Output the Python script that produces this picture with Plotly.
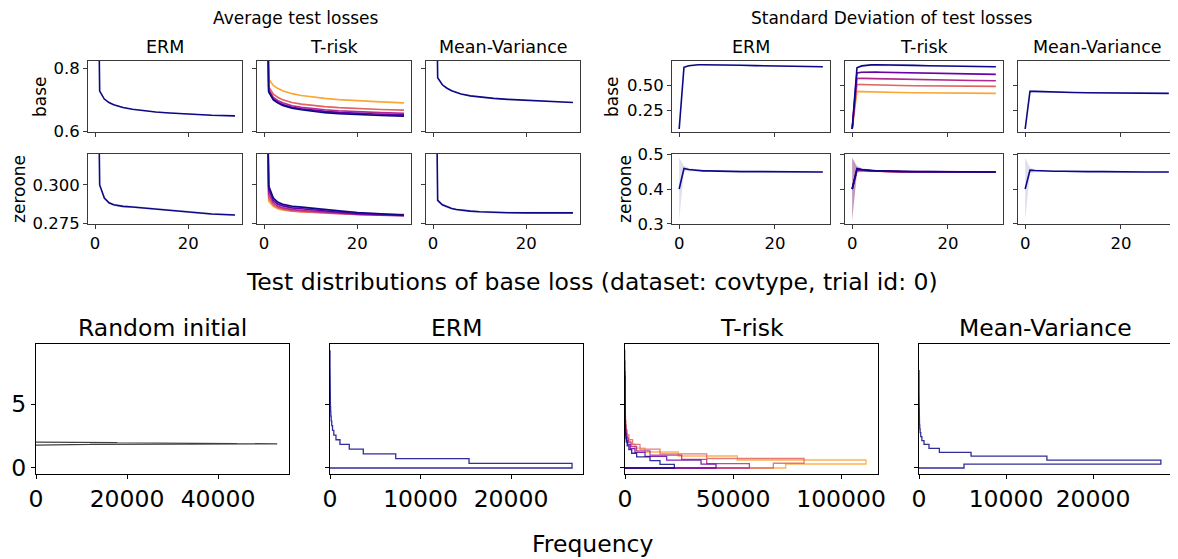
import plotly.graph_objects as go

# page body has an 8px margin, so the figure is 8px smaller and coordinates are offset
W, H = 1170, 551
OFF = 8
FONT = "DejaVu Sans"

# ---------------- data ----------------
epochs = [0, 1, 2, 3, 4, 5, 6, 8, 10, 13, 16, 20, 25, 30]
methods = ["ERM", "T-risk", "Mean-Variance"]
row_names = ["base", "zeroone"]
single_color = "#0d0887"
trisk_colors = ["#0d0887", "#6a00a8", "#b12a90", "#e16462", "#fca636"]

# Average test losses, base loss
avg_base_erm = [1.95, 0.728, 0.703, 0.692, 0.685, 0.680, 0.676, 0.671, 0.667, 0.662, 0.659, 0.655, 0.652, 0.650]
avg_base_trisk = [
    [1.95, 0.725, 0.700, 0.690, 0.683, 0.678, 0.674, 0.669, 0.665, 0.660, 0.657, 0.654, 0.651, 0.649],
    [1.95, 0.728, 0.703, 0.693, 0.686, 0.681, 0.677, 0.672, 0.668, 0.664, 0.661, 0.658, 0.655, 0.653],
    [1.95, 0.733, 0.708, 0.698, 0.691, 0.686, 0.682, 0.677, 0.673, 0.669, 0.666, 0.663, 0.660, 0.658],
    [1.95, 0.742, 0.718, 0.708, 0.701, 0.696, 0.692, 0.687, 0.683, 0.679, 0.676, 0.673, 0.670, 0.668],
    [1.95, 0.766, 0.746, 0.736, 0.729, 0.724, 0.720, 0.714, 0.710, 0.705, 0.701, 0.697, 0.694, 0.691],
]
avg_base_mv = [1.95, 0.770, 0.748, 0.737, 0.729, 0.723, 0.719, 0.713, 0.709, 0.705, 0.702, 0.699, 0.696, 0.692]

# Average test losses, zero-one loss
avg_zo_erm = [0.55, 0.3000, 0.2915, 0.2885, 0.2872, 0.2866, 0.2862, 0.2858, 0.2853, 0.2845, 0.2837, 0.2828, 0.2813, 0.2806]
avg_zo_trisk = [
    [0.55, 0.2995, 0.2915, 0.2888, 0.2876, 0.2868, 0.2863, 0.2857, 0.2852, 0.2843, 0.2833, 0.2822, 0.2812, 0.2806],
    [0.55, 0.2970, 0.2900, 0.2875, 0.2865, 0.2857, 0.2852, 0.2846, 0.2840, 0.2832, 0.2824, 0.2815, 0.2808, 0.2803],
    [0.55, 0.2940, 0.2885, 0.2862, 0.2852, 0.2846, 0.2841, 0.2835, 0.2830, 0.2823, 0.2817, 0.2810, 0.2805, 0.2801],
    [0.55, 0.2915, 0.2872, 0.2852, 0.2843, 0.2837, 0.2833, 0.2828, 0.2824, 0.2819, 0.2815, 0.2810, 0.2806, 0.2803],
    [0.55, 0.2895, 0.2862, 0.2846, 0.2839, 0.2834, 0.2831, 0.2827, 0.2824, 0.2820, 0.2817, 0.2814, 0.2812, 0.2811],
]
avg_zo_mv = [0.55, 0.2900, 0.2872, 0.2858, 0.2848, 0.2842, 0.2837, 0.2831, 0.2827, 0.2823, 0.2821, 0.2820, 0.2820, 0.2820]

# Standard deviation of test losses, base loss
std_base_erm = [0.067, 0.684, 0.700, 0.706, 0.709, 0.710, 0.710, 0.709, 0.707, 0.704, 0.701, 0.697, 0.693, 0.690]
std_base_trisk = [
    [0.067, 0.680, 0.698, 0.705, 0.708, 0.709, 0.709, 0.708, 0.706, 0.703, 0.700, 0.696, 0.692, 0.689],
    [0.067, 0.628, 0.635, 0.637, 0.637, 0.636, 0.635, 0.633, 0.631, 0.628, 0.625, 0.621, 0.617, 0.613],
    [0.067, 0.572, 0.573, 0.572, 0.570, 0.568, 0.566, 0.564, 0.562, 0.559, 0.557, 0.555, 0.552, 0.550],
    [0.067, 0.512, 0.512, 0.510, 0.508, 0.507, 0.506, 0.504, 0.502, 0.500, 0.498, 0.496, 0.494, 0.493],
    [0.067, 0.443, 0.441, 0.439, 0.437, 0.436, 0.435, 0.433, 0.432, 0.430, 0.428, 0.426, 0.424, 0.423],
]
std_base_mv = [0.067, 0.443, 0.443, 0.441, 0.439, 0.437, 0.436, 0.434, 0.432, 0.430, 0.428, 0.426, 0.424, 0.423]

# Standard deviation of test losses, zero-one loss
std_zo_erm = [0.400, 0.459, 0.456, 0.454, 0.453, 0.452, 0.452, 0.451, 0.451, 0.450, 0.450, 0.450, 0.449, 0.449]
std_zo_trisk = [
    [0.400, 0.459, 0.456, 0.454, 0.453, 0.452, 0.452, 0.451, 0.451, 0.450, 0.450, 0.450, 0.449, 0.449],
    [0.400, 0.457, 0.455, 0.453, 0.452, 0.452, 0.451, 0.451, 0.450, 0.450, 0.450, 0.449, 0.449, 0.449],
    [0.400, 0.455, 0.454, 0.453, 0.452, 0.451, 0.451, 0.450, 0.450, 0.450, 0.449, 0.449, 0.449, 0.449],
    [0.400, 0.453, 0.453, 0.452, 0.451, 0.451, 0.451, 0.450, 0.450, 0.450, 0.449, 0.449, 0.449, 0.449],
    [0.400, 0.452, 0.452, 0.452, 0.451, 0.451, 0.450, 0.450, 0.450, 0.449, 0.449, 0.449, 0.449, 0.449],
]
std_zo_mv = [0.400, 0.454, 0.453, 0.452, 0.452, 0.451, 0.451, 0.451, 0.450, 0.450, 0.450, 0.449, 0.449, 0.449]

# half-widths of the shaded spread bands (per epoch)
band_avg_base = [0.05, 0.004, 0.003, 0.002, 0.002, 0.002, 0.002, 0.0015, 0.0015, 0.0015, 0.0015, 0.0015, 0.0015, 0.0015]
band_avg_zo = [0.05, 0.0012, 0.0010, 0.0009, 0.0008, 0.0008, 0.0008, 0.0008, 0.0007, 0.0007, 0.0007, 0.0007, 0.0007, 0.0007]
band_std_base = [0.03, 0.010, 0.008, 0.007, 0.006, 0.006, 0.006, 0.006, 0.006, 0.006, 0.006, 0.006, 0.006, 0.006]
band_std_zo = [0.090, 0.008, 0.004, 0.003, 0.002, 0.002, 0.002, 0.002, 0.002, 0.002, 0.002, 0.002, 0.002, 0.002]

# Histograms of base loss (25 equal bins over [lo, hi], counts per bin)
hist_titles = ["Random initial", "ERM", "T-risk", "Mean-Variance"]
hist_rand_range = [1.78, 2.02]
hist_rand_counts = [1500, 4000, 7500, 6000, 5000, 9000, 12000, 17000, 26000, 38000, 47000, 53000, 51000,
                    44000, 36000, 30000, 26000, 22000, 20000, 18000, 17700, 15000, 11000, 6000, 2000]
hist_erm_range = [0.0, 9.2]
hist_erm_counts = [26740, 15360, 7260, 3680, 2130, 1100, 660, 420, 280, 190, 130, 90, 65, 45, 32, 22, 16,
                   11, 8, 6, 4, 3, 2, 1, 1]
hist_mv_range = [0.0, 7.66]
hist_mv_counts = [5170, 27800, 14700, 5980, 2340, 1150, 575, 330, 200, 130, 85, 55, 38, 26, 18, 12, 9, 6,
                  4, 3, 2, 2, 1, 1, 1]
hist_trisk_ranges = [[0.0, 7.2], [0.0, 7.6], [0.0, 8.4], [0.0, 9.25], [0.0, 7.8]]
hist_trisk_counts = [
    [22840, 16200, 11570, 5400, 3090, 1800, 1000, 600, 380, 250, 170, 120, 85, 60, 42, 30, 22, 16, 12, 9, 6, 4, 3, 2, 1],
    [42130, 35190, 19290, 9260, 4630, 2400, 1300, 750, 450, 290, 190, 130, 90, 65, 46, 33, 24, 17, 12, 9, 6, 4, 3, 2, 1],
    [57560, 37810, 26240, 11570, 5400, 2800, 1500, 850, 500, 320, 210, 140, 95, 68, 48, 34, 25, 18, 13, 9, 6, 4, 3, 2, 1],
    [68660, 82870, 37810, 16200, 6940, 3500, 1800, 1000, 580, 360, 230, 150, 100, 70, 50, 36, 26, 18, 13, 9, 6, 4, 3, 2, 1],
    [74390, 111570, 52000, 24700, 9260, 4600, 2300, 1200, 650, 400, 250, 160, 110, 75, 52, 37, 27, 19, 13, 9, 6, 4, 3, 2, 1],
]
hist_xticks = [[0, 20000, 40000], [0, 10000, 20000], [0, 50000, 100000], [0, 10000, 20000]]
hist_yticks = [0, 5]

# ---------------- layout geometry (pixels on the page) ----------------
left_cols = [(88, 242), (257, 411), (426, 580)]
right_cols = [(672, 830), (845, 1003), (1018, 1176)]
top_rows = [(61, 132), (154, 224)]
bottom_cols = [(36, 289), (330, 583), (625, 878), (919, 1172)]
bottom_row = (344, 474)


def px_x(x):
    return (x - OFF) / W


def px_y(y):
    return 1 - (y - OFF) / H


def rgba(hex_color, a):
    h = hex_color.lstrip("#")
    r, g, b = int(h[0:2], 16), int(h[2:4], 16), int(h[4:6], 16)
    return f"rgba({r},{g},{b},{a})"


fig = go.Figure()
layout = {}
annotations = []
AX_LINE = "#3a3a3a"


def add_axis(idx, xdom, ydom, xrange, yrange, xticks, yticks, xlabels, ylabels, fsize, line=AX_LINE):
    xk = "xaxis" if idx == 1 else f"xaxis{idx}"
    yk = "yaxis" if idx == 1 else f"yaxis{idx}"
    common = dict(showline=True, mirror=True, linecolor=line, linewidth=1, ticks="outside",
                  ticklen=4, tickwidth=1, tickcolor=line, showgrid=False, zeroline=False,
                  automargin=False, tickfont=dict(family=FONT, size=fsize, color="black"),
                  fixedrange=True)
    layout[xk] = dict(domain=[px_x(xdom[0]), px_x(xdom[1])], anchor=("y" if idx == 1 else f"y{idx}"),
                      range=xrange, tickmode="array", tickvals=xticks,
                      ticktext=xlabels if xlabels else [""] * len(xticks), **common)
    layout[yk] = dict(domain=[px_y(ydom[1]), px_y(ydom[0])], anchor=("x" if idx == 1 else f"x{idx}"),
                      range=yrange, tickmode="array", tickvals=yticks,
                      ticktext=ylabels if ylabels else [""] * len(yticks), **common)
    return ("x" if idx == 1 else f"x{idx}"), ("y" if idx == 1 else f"y{idx}")


def add_line(xa, ya, ys, band, color, width=1.6):
    upper = [v + b for v, b in zip(ys, band)]
    lower = [v - b for v, b in zip(ys, band)]
    fig.add_trace(go.Scatter(x=epochs + epochs[::-1], y=upper + lower[::-1], fill="toself",
                             fillcolor=rgba(color, 0.13), line=dict(width=0), mode="lines",
                             xaxis=xa, yaxis=ya, hoverinfo="skip", showlegend=False))
    fig.add_trace(go.Scatter(x=epochs, y=ys, mode="lines", line=dict(color=color, width=width),
                             xaxis=xa, yaxis=ya, showlegend=False))


top_groups = [
    dict(cols=left_cols,
         rows=[dict(data=[avg_base_erm, avg_base_trisk, avg_base_mv], band=band_avg_base,
                    yrange=[0.599, 0.823], yticks=[0.6, 0.8], ylabels=["0.6", "0.8"]),
               dict(data=[avg_zo_erm, avg_zo_trisk, avg_zo_mv], band=band_avg_zo,
                    yrange=[0.2748, 0.320], yticks=[0.275, 0.300], ylabels=["0.275", "0.300"])]),
    dict(cols=right_cols,
         rows=[dict(data=[std_base_erm, std_base_trisk, std_base_mv], band=band_std_base,
                    yrange=[0.037, 0.747], yticks=[0.25, 0.50], ylabels=["0.25", "0.50"]),
               dict(data=[std_zo_erm, std_zo_trisk, std_zo_mv], band=band_std_zo,
                    yrange=[0.2995, 0.5005], yticks=[0.3, 0.4, 0.5], ylabels=["0.3", "0.4", "0.5"])]),
]

idx = 1
for g in top_groups:
    for r, row in enumerate(g["rows"]):
        for c, col in enumerate(g["cols"]):
            xa, ya = add_axis(idx, col, top_rows[r], [-1.5, 31.5], row["yrange"], [0, 20],
                              row["yticks"], ["0", "20"] if r == 1 else None,
                              row["ylabels"] if c == 0 else None, 16.5)
            d = row["data"][c]
            if c == 1:
                for k in range(len(trisk_colors) - 1, -1, -1):
                    add_line(xa, ya, d[k], row["band"], trisk_colors[k])
            else:
                add_line(xa, ya, d, row["band"], single_color)
            idx += 1

# ---------------- histograms ----------------


def step_path(rng, counts):
    n = len(counts)
    edges = [rng[0] + (rng[1] - rng[0]) * i / n for i in range(n + 1)]
    xs, ys = [0], [edges[0]]
    for i, cnt in enumerate(counts):
        xs += [cnt, cnt]
        ys += [edges[i], edges[i + 1]]
    xs.append(0)
    ys.append(edges[-1])
    return xs, ys


hist_xranges = [[0, 55600], [0, 27950], [0, 117100], [0, 29080]]
for j in range(4):
    xa, ya = add_axis(idx, bottom_cols[j], bottom_row, hist_xranges[j], [-0.47, 9.69],
                      hist_xticks[j], hist_yticks, [str(v) for v in hist_xticks[j]],
                      [str(v) for v in hist_yticks] if j == 0 else None, 23.5, line="black")
    if j == 0:
        hx, hy = step_path(hist_rand_range, hist_rand_counts)
        fig.add_trace(go.Scatter(x=hx, y=hy, mode="lines", line=dict(color="rgba(0,0,0,0.75)", width=1.2),
                                 xaxis=xa, yaxis=ya, showlegend=False))
    elif j == 1:
        hx, hy = step_path(hist_erm_range, hist_erm_counts)
        fig.add_trace(go.Scatter(x=hx, y=hy, mode="lines", line=dict(color=rgba(single_color, 0.85), width=1.3),
                                 xaxis=xa, yaxis=ya, showlegend=False))
    elif j == 2:
        for k in range(len(trisk_colors) - 1, -1, -1):
            hx, hy = step_path(hist_trisk_ranges[k], hist_trisk_counts[k])
            fig.add_trace(go.Scatter(x=hx, y=hy, mode="lines",
                                     line=dict(color=rgba(trisk_colors[k], 0.85), width=1.3),
                                     xaxis=xa, yaxis=ya, showlegend=False))
    else:
        hx, hy = step_path(hist_mv_range, hist_mv_counts)
        fig.add_trace(go.Scatter(x=hx, y=hy, mode="lines", line=dict(color=rgba(single_color, 0.85), width=1.3),
                                 xaxis=xa, yaxis=ya, showlegend=False))
    idx += 1

# ---------------- text ----------------


def text(s, x, y, size, angle=0):
    annotations.append(dict(text=s, x=px_x(x), y=px_y(y), xref="paper", yref="paper", showarrow=False,
                            xanchor="center", yanchor="middle", textangle=angle, borderpad=0,
                            font=dict(family=FONT, size=size, color="black")))


text("Average test losses", 296, 18, 17)
text("Standard Deviation of test losses", 892, 18, 17)
for cols in (left_cols, right_cols):
    for c, col in enumerate(cols):
        text(methods[c], (col[0] + col[1]) / 2, 47, 17.5)
text("base", 40, 97, 17, -90)
text("zeroone", 19, 189, 17, -90)
text("base", 612, 97, 17, -90)
text("zeroone", 625, 189, 17, -90)

text("Test distributions of base loss (dataset: covtype, trial id: 0)", 592, 282, 23.5)
for j, col in enumerate(bottom_cols):
    text(hist_titles[j], (col[0] + col[1]) / 2, 328, 23.5)
text("Frequency", 592, 544, 23.5)

fig.update_layout(width=W, height=H, margin=dict(l=0, r=0, t=0, b=0), paper_bgcolor="white",
                  plot_bgcolor="white", showlegend=False, annotations=annotations, **layout)
fig.write_html("out.html")
